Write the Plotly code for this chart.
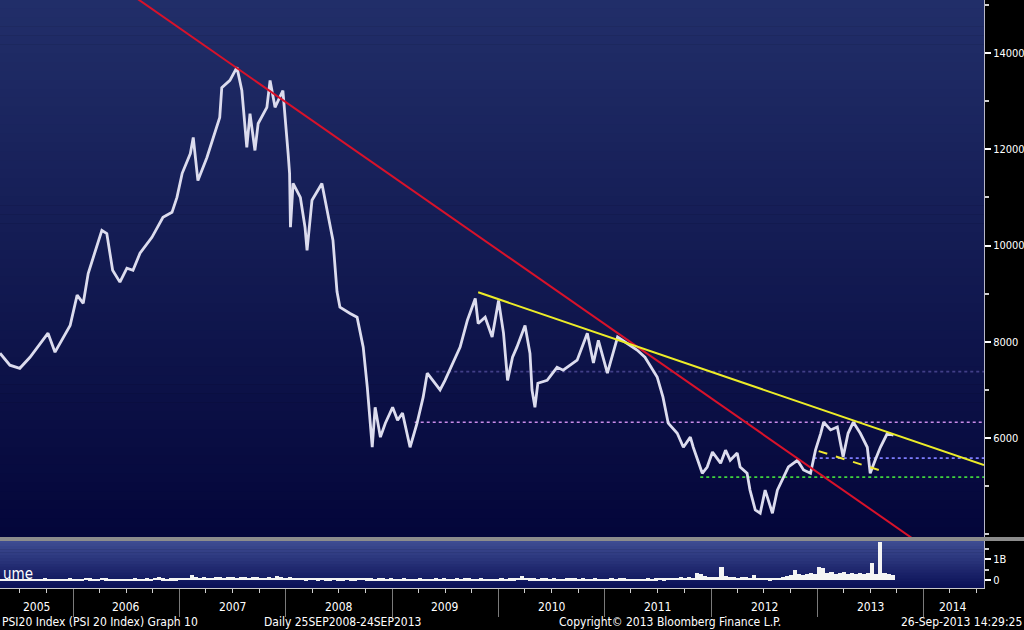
import plotly.graph_objects as go
import pandas as pd

# ---------------- data ----------------
price_dates = [
    "2005-04-24", "2005-05-28", "2005-07-01", "2005-08-05", "2005-10-06", "2005-10-30",
    "2005-12-21", "2006-01-14", "2006-02-04", "2006-02-21", "2006-03-15", "2006-04-09",
    "2006-04-26", "2006-05-16", "2006-06-10", "2006-07-04", "2006-07-25", "2006-08-18",
    "2006-09-28", "2006-11-05", "2006-12-06", "2006-12-23", "2007-01-10", "2007-02-07",
    "2007-02-17", "2007-03-05", "2007-04-05", "2007-05-02", "2007-05-19", "2007-05-26",
    "2007-06-23", "2007-07-17", "2007-08-03", "2007-08-20", "2007-08-31", "2007-09-17",
    "2007-09-28", "2007-10-28", "2007-11-08", "2007-11-25", "2007-12-22", "2008-01-09",
    "2008-01-14", "2008-01-17", "2008-01-26", "2008-02-20", "2008-03-07", "2008-03-14",
    "2008-03-31", "2008-05-04", "2008-05-21", "2008-06-11", "2008-06-25", "2008-07-05",
    "2008-08-09", "2008-09-02", "2008-09-23", "2008-10-07", "2008-10-24", "2008-11-03",
    "2008-11-21", "2008-12-08", "2009-01-02", "2009-01-19", "2009-02-05", "2009-03-03",
    "2009-03-27", "2009-04-17", "2009-05-01", "2009-05-11", "2009-06-14", "2009-07-01",
    "2009-07-29", "2009-08-22", "2009-09-16", "2009-10-13", "2009-10-23", "2009-11-16",
    "2009-12-10", "2010-01-01", "2010-01-18", "2010-02-01", "2010-02-18", "2010-03-05",
    "2010-04-02", "2010-04-19", "2010-04-26", "2010-05-06", "2010-05-16", "2010-06-17",
    "2010-07-21", "2010-08-11", "2010-09-28", "2010-11-02", "2010-11-23", "2010-12-10",
    "2011-01-10", "2011-02-14", "2011-03-18", "2011-04-22", "2011-05-19", "2011-06-30",
    "2011-07-20", "2011-08-07", "2011-09-07", "2011-09-28", "2011-10-22", "2011-11-01",
    "2011-12-02", "2011-12-19", "2012-01-06", "2012-02-03", "2012-02-20", "2012-03-07",
    "2012-03-31", "2012-04-10", "2012-05-04", "2012-05-14", "2012-06-01", "2012-06-18",
    "2012-07-05", "2012-07-30", "2012-08-16", "2012-09-06", "2012-09-23", "2012-10-24",
    "2012-11-14", "2012-12-08", "2012-12-25", "2013-01-12", "2013-01-22", "2013-02-15",
    "2013-03-10", "2013-03-30", "2013-04-16", "2013-05-04", "2013-05-28", "2013-06-21",
    "2013-07-01", "2013-07-18", "2013-08-05", "2013-08-29", "2013-09-19",
]
price_values = [
    7763, 7515, 7450, 7680, 8180, 7785,
    8340, 8970, 8800, 9420, 9840, 10315,
    10250, 9485, 9240, 9530, 9485, 9840,
    10170, 10585, 10690, 11000, 11500, 11910,
    12245, 11350, 11830, 12330, 12660, 13280,
    13430, 13700, 13220, 12040, 12740, 11975,
    12535, 12870, 13430, 12870, 13220, 11910,
    11500, 10380, 11290, 11000, 10380, 9900,
    10940, 11290, 10790, 10110, 9040, 8720,
    8590, 8510, 7890, 7060, 5810, 6640,
    6020, 6310, 6640, 6370, 6520, 5810,
    6310, 6850, 7350, 7270, 7000, 7200,
    7560, 7890, 8450, 8900, 8380, 8510,
    8100, 8860, 8180, 7200, 7680, 7890,
    8340, 7760, 7000, 6640, 7140, 7200,
    7470, 7410, 7620, 8180, 7560, 8030,
    7350, 8100, 7970, 7830, 7680, 7270,
    6850, 6310, 6100, 5810, 6020, 5810,
    5270, 5400, 5710, 5480, 5750, 5540,
    5690, 5400, 5270, 4920, 4510, 4440,
    4920, 4440, 4920, 5190, 5400, 5540,
    5340, 5270, 5750, 6100, 6330, 6170,
    6230, 5610, 6100, 6330, 6100, 5810,
    5270, 5540, 5810, 6100, 6060,
]

# volume, billions, one value every two weeks starting 2005-04-25
vol_start = "2005-04-25"
vol_values = [
    0.05, 0.04, 0.06, 0.05, 0.04, 0.06, 0.05, 0.07, 0.05, 0.06, 0.05, 0.08, 0.06, 0.05, 0.07, 0.06, 0.05, 0.09, 0.06,
    0.07, 0.06, 0.12, 0.08, 0.06, 0.07, 0.10, 0.08, 0.06, 0.05, 0.07, 0.06, 0.05, 0.06, 0.08, 0.07, 0.06, 0.09, 0.07, 0.10, 0.15, 0.08, 0.07, 0.09, 0.08, 0.10,
    0.12, 0.10, 0.25, 0.13, 0.12, 0.14, 0.11, 0.12, 0.13, 0.15, 0.12, 0.14, 0.16, 0.12, 0.13, 0.15, 0.12, 0.14, 0.13, 0.12, 0.11, 0.14, 0.12, 0.20, 0.13, 0.11,
    0.15, 0.12, 0.10, 0.11, 0.09, 0.10, 0.12, 0.09, 0.10, 0.08, 0.09, 0.10, 0.09, 0.08, 0.11, 0.09, 0.08, 0.12, 0.10, 0.09, 0.08, 0.07, 0.09, 0.08, 0.07, 0.08,
    0.07, 0.06, 0.08, 0.07, 0.06, 0.07, 0.08, 0.06, 0.07, 0.06, 0.09, 0.07, 0.08, 0.07, 0.06, 0.08, 0.07, 0.08, 0.09, 0.07, 0.06, 0.08, 0.07, 0.06, 0.07, 0.06,
    0.08, 0.07, 0.09, 0.08, 0.10, 0.20, 0.10, 0.09, 0.08, 0.07, 0.08, 0.09, 0.07, 0.08, 0.06, 0.07, 0.08, 0.09, 0.08, 0.07, 0.08, 0.07, 0.06, 0.08, 0.07, 0.06,
    0.07, 0.08, 0.07, 0.09, 0.08, 0.07, 0.06, 0.05, 0.07, 0.06, 0.08, 0.07, 0.09, 0.10, 0.09, 0.10, 0.12, 0.11, 0.13, 0.12, 0.14, 0.12, 0.34, 0.30, 0.18, 0.15,
    0.16, 0.14, 0.64, 0.18, 0.14, 0.15, 0.12, 0.13, 0.14, 0.11, 0.26, 0.12, 0.10, 0.11, 0.09, 0.12, 0.10, 0.13, 0.18, 0.22, 0.50, 0.30, 0.25, 0.28, 0.35, 0.30,
    0.60, 0.55, 0.35, 0.40, 0.30, 0.35, 0.40, 0.30, 0.33, 0.28, 0.35, 0.30, 0.32, 0.79, 0.30, 1.82, 0.35, 0.30, 0.22,
]

red_trend_dates = ["2006-06-10", "2014-01-24"]
red_trend_values = [15378, 3656]
yellow_trend_dates = ["2009-10-23", "2014-07-27"]
yellow_trend_values = [9029, 5440]
yellow_support_dates = ["2013-01-05", "2013-08-22"]
yellow_support_values = [5730, 5295]

level_names = ["faint", "pink", "blue", "green"]
level_starts = ["2009-06-01", "2009-03-19", "2012-12-19", "2011-11-25"]
level_values = [7380, 6330, 5585, 5190]
level_end = "2014-07-27"

year_labels = ["2005", "2006", "2007", "2008", "2009", "2010", "2011", "2012", "2013", "2014"]
year_label_dates = ["2005-08-28", "2006-07-02", "2007-07-02", "2008-07-02", "2009-07-02",
                    "2010-07-02", "2011-07-02", "2012-07-02", "2013-07-02", "2014-04-12"]

price_ticks = [6000, 8000, 10000, 12000, 14000]
price_tick_text = ["6000", "8000", "10000", "12000", "14000"]
vol_ticks = [0, 1e9]
vol_tick_text = ["0", "1B"]

# ---------------- figure ----------------
FONT = "Liberation Sans Narrow, DejaVu Sans Condensed, Arial Narrow, sans-serif"
W, H = 1024, 630
L, R, T, B = 0, 40, 0, 42
PW, PH = W - L - R, H - T - B
main_bottom = (PH - 537) / PH
vol_top = (PH - 541) / PH

fig = go.Figure()

vol_dates = pd.date_range(vol_start, periods=len(vol_values), freq="14D")
fig.add_trace(go.Bar(
    x=vol_dates, y=[v * 1e9 for v in vol_values], yaxis="y2",
    marker=dict(color="#f4f4f4", line=dict(width=0)),
    width=14 * 24 * 3600 * 1000, hoverinfo="skip", showlegend=False))

level_colors = {"faint": "rgba(110,100,190,0.55)", "pink": "#c98be8", "blue": "#7d7dff", "green": "#3fd33f"}
for name, s, v in zip(level_names, level_starts, level_values):
    fig.add_trace(go.Scatter(x=[s, level_end], y=[v, v], mode="lines",
                             line=dict(color=level_colors[name], width=1.6, dash="dot"),
                             showlegend=False, hoverinfo="skip"))

fig.add_trace(go.Scatter(x=pd.to_datetime(price_dates), y=price_values, mode="lines",
                         line=dict(color="#dcdcee", width=2.8), showlegend=False))

fig.add_trace(go.Scatter(x=yellow_support_dates, y=yellow_support_values, mode="lines",
                         line=dict(color="#f0e830", width=2, dash="dash"), showlegend=False))
fig.add_trace(go.Scatter(x=red_trend_dates, y=red_trend_values, mode="lines",
                         line=dict(color="#d8122a", width=2), showlegend=False))
fig.add_trace(go.Scatter(x=yellow_trend_dates, y=yellow_trend_values, mode="lines",
                         line=dict(color="#ecec28", width=2), showlegend=False))

# background gradients (styling only)
shapes = []
def lerp(c1, c2, t):
    return "rgb(%d,%d,%d)" % tuple(round(a + (b - a) * t) for a, b in zip(c1, c2))

n = 60
top_c, bot_c = (33, 46, 105), (4, 6, 58)
for i in range(n):
    y1 = 1 - (1 - main_bottom) * i / n
    y0 = 1 - (1 - main_bottom) * (i + 1) / n
    shapes.append(dict(type="rect", xref="paper", yref="paper", x0=0, x1=1, y0=y0, y1=y1 + 0.001,
                       fillcolor=lerp(top_c, bot_c, i / (n - 1)), line=dict(width=0), layer="below"))
m = 16
vt, vb = (62, 76, 146), (12, 18, 88)
for i in range(m):
    y1 = vol_top - vol_top * i / m
    y0 = vol_top - vol_top * (i + 1) / m
    shapes.append(dict(type="rect", xref="paper", yref="paper", x0=0, x1=1, y0=y0, y1=y1 + 0.001,
                       fillcolor=lerp(vt, vb, i / (m - 1)), line=dict(width=0), layer="below"))
# separator bar between panels
shapes.append(dict(type="rect", xref="paper", yref="paper", x0=0, x1=W / PW, y0=vol_top, y1=main_bottom,
                   fillcolor="#8c8c8c", line=dict(width=0), layer="above"))

annotations = []
for lab, d in zip(year_labels, year_label_dates):
    annotations.append(dict(x=d, xref="x", y=-19 / PH, yref="paper", text=lab, showarrow=False,
                            xanchor="center", yanchor="middle",
                            font=dict(family=FONT, size=12, color="#ffffff")))
foot_y = -34 / PH
foot_font = dict(family=FONT, size=12, color="#ffffff")
annotations += [
    dict(x=0, xref="paper", y=foot_y, yref="paper", text="PSI20 Index (PSI 20 Index) Graph 10",
         showarrow=False, xanchor="left", yanchor="middle", font=foot_font),
    dict(x=262 / PW, xref="paper", y=foot_y, yref="paper", text="Daily 25SEP2008-24SEP2013",
         showarrow=False, xanchor="left", yanchor="middle", font=foot_font),
    dict(x=557 / PW, xref="paper", y=foot_y, yref="paper", text="Copyright\u00a9 2013 Bloomberg Finance L.P.",
         showarrow=False, xanchor="left", yanchor="middle", font=foot_font),
    dict(x=W / PW, xref="paper", y=foot_y, yref="paper", text="26-Sep-2013 14:29:25",
         showarrow=False, xanchor="right", yanchor="middle", font=foot_font),
    dict(x=1 / PW, xref="paper", y=(PH - 574) / PH, yref="paper", text="ume",
         showarrow=False, xanchor="left", yanchor="middle",
         font=dict(family=FONT, size=15, color="#ffffff")),
]

fig.update_layout(
    width=W, height=H, autosize=False,
    margin=dict(l=L, r=R, t=T, b=B, pad=0, autoexpand=False),
    paper_bgcolor="#000000", plot_bgcolor="rgba(0,0,0,0)",
    showlegend=False, bargap=0,
    shapes=shapes, annotations=annotations,
    xaxis=dict(
        type="date", range=["2005-04-24", "2014-07-27"], anchor="y2", automargin=False,
        showgrid=False, zeroline=False, showline=True, linecolor="#c8c8c8", linewidth=1,
        tick0="2006-01-01", dtick="M12", ticks="outside", ticklen=28, tickcolor="#7a7a7a",
        tickwidth=1, showticklabels=False,
        minor=dict(tick0="2006-01-01", dtick="M3", ticks="outside", ticklen=4, tickcolor="#d0d0d0"),
    ),
    yaxis=dict(
        domain=[main_bottom, 1], range=[3946, 15100], side="right", automargin=False,
        showgrid=False, zeroline=False, showline=True, linecolor="#b8b8c8", linewidth=1,
        tickvals=price_ticks, ticktext=price_tick_text, ticks="outside", ticklen=6,
        tickcolor="#ffffff", tickwidth=2,
        tickfont=dict(family=FONT, size=11, color="#ffffff"),
        minor=dict(tickvals=[4000, 5000, 7000, 9000, 11000, 13000, 15000],
                   ticks="outside", ticklen=4, tickcolor="#d0d0d0"),
    ),
    yaxis2=dict(
        domain=[0, vol_top], range=[-0.38e9, 1.86e9], side="right", automargin=False,
        showgrid=False, zeroline=False, showline=True, linecolor="#b8b8c8", linewidth=1,
        tickvals=vol_ticks, ticktext=vol_tick_text, ticks="outside", ticklen=6,
        tickcolor="#ffffff", tickwidth=2,
        tickfont=dict(family=FONT, size=11, color="#ffffff"),
        minor=dict(tickvals=[0.5e9, 1.5e9], ticks="outside", ticklen=4, tickcolor="#d0d0d0"),
    ),
)

fig.write_html("out.html")
